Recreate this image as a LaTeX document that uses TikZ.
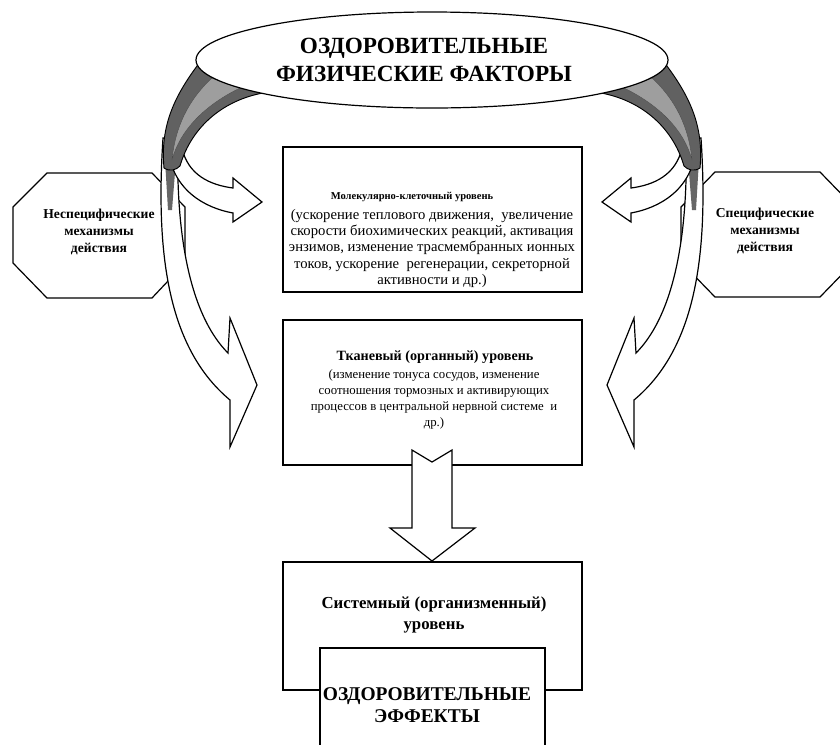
\documentclass[tikz,border=0pt]{standalone}
\usepackage{fontspec}
\setmainfont{Liberation Serif}
\usetikzlibrary{shapes.geometric}
\tikzset{
  boxline/.style={draw=black, line width=0.9pt, fill=white},
  arrowshape/.style={draw=black, line width=0.9pt, fill=white, line join=miter},
  ribbonshape/.style={draw=black, line width=0.7pt, fill=black!62},
  ribbonstripe/.style={draw=black!70, line width=0.3pt, fill=black!38},
  txt/.style={align=center, inner sep=0pt},
}
\newcommand{\sidegroup}{%
  % long arrow
  \draw[arrowshape] (163,138) .. controls (155,260) and (170,350) .. (230,400)
     -- (230,447) -- (257,385) -- (230,318) -- (228,353)
     .. controls (195,320) and (175,250) .. (178,138) -- cycle;
  % dark strip inside long arrow
  \fill[black!60] (165,160) -- (176,160) -- (172,210) -- (168,210) -- cycle;
  % short arrow
  \draw[arrowshape] (168,148) .. controls (172,190) and (205,208) .. (233,213)
     -- (233,222) -- (262,202) -- (233,178) -- (233,188)
     .. controls (210,185) and (188,175) .. (182,148) -- cycle;
  % twisted ribbon
  \draw[ribbonshape] (200,62) .. controls (175,95) and (160,125) .. (164,168)
     .. controls (170,172) and (176,170) .. (180,166)
     .. controls (192,125) and (225,100) .. (263,93) -- (262,62) -- cycle;
  \draw[ribbonstripe] (212,78) .. controls (188,100) and (175,128) .. (172,160)
     .. controls (180,130) and (205,105) .. (240,88) -- cycle;
}
\begin{document}
\begin{tikzpicture}[x=0.75pt,y=-0.75pt]
\useasboundingbox (0,0) rectangle (840,744);
\clip (0,0) rectangle (840,744);
\fill[white] (0,0) rectangle (840,744);

% octagons
\draw[boxline] (47,173) -- (152,173) -- (185,207) -- (185,263) -- (152,298)
   -- (47,298) -- (13,263) -- (13,207) -- cycle;
\node[txt, font=\bfseries\fontsize{10.2}{12.8}\selectfont] (nonspec) at (99,232)
   {Неспецифические\\механизмы\\действия};
\draw[boxline] (715,172) -- (820,172) -- (854,207) -- (854,262) -- (820,297)
   -- (715,297) -- (681,262) -- (681,207) -- cycle;
\node[txt, font=\bfseries\fontsize{10.2}{12.8}\selectfont] (spec) at (765,231)
   {Специфические\\механизмы\\действия};

% level boxes
\draw[boxline] (283,147) rectangle (582,292);
\node[txt, font=\bfseries\fontsize{7.9}{10}\selectfont] (mol) at (412,197)
   {Молекулярно-клеточный уровень};
\node[txt, anchor=north, font=\fontsize{11}{12.2}\selectfont] (molb) at (432,209)
   {(ускорение теплового движения,\ \ увеличение\\скорости биохимических реакций, активация\\энзимов, изменение трасмембранных ионных\\токов, ускорение\ \ регенерации, секреторной\\активности и др.)};

\draw[boxline] (283,320) rectangle (582,465);
\node[txt, font=\bfseries\fontsize{10.6}{12}\selectfont] (tis) at (435,357)
   {Тканевый (органный) уровень};
\node[txt, anchor=north, font=\fontsize{9.6}{12}\selectfont] (tisb) at (434,369)
   {(изменение тонуса сосудов, изменение\\соотношения тормозных и активирующих\\процессов в центральной нервной системе\ \ и\\др.)};

\draw[boxline] (283,562) rectangle (582,690);
\node[txt, font=\bfseries\fontsize{12.6}{16}\selectfont] (sys) at (434,615)
   {Системный (организменный)\\уровень};

\draw[boxline] (320,648) rectangle (545,760);
\node[txt, font=\bfseries\fontsize{14.6}{17}\selectfont] (eff) at (427,705)
   {ОЗДОРОВИТЕЛЬНЫЕ\\ЭФФЕКТЫ};

% down arrow
\draw[arrowshape] (412,450) -- (432,462) -- (452,450) -- (452,528) -- (475,528)
   -- (432,561) -- (390,528) -- (412,528) -- cycle;

% curved arrows and ribbons
\sidegroup
\begin{scope}[shift={(864,0)}, xscale=-1]
\sidegroup
\end{scope}

% top ellipse
\node[ellipse, draw=black, line width=0.9pt, fill=white, minimum width=354pt,
      minimum height=72pt, inner sep=0pt] (top) at (432,60) {};
\node[txt, font=\bfseries\fontsize{17.4}{21}\selectfont] (toptext) at (424,60)
   {ОЗДОРОВИТЕЛЬНЫЕ\\ФИЗИЧЕСКИЕ ФАКТОРЫ};
\end{tikzpicture}
\end{document}
